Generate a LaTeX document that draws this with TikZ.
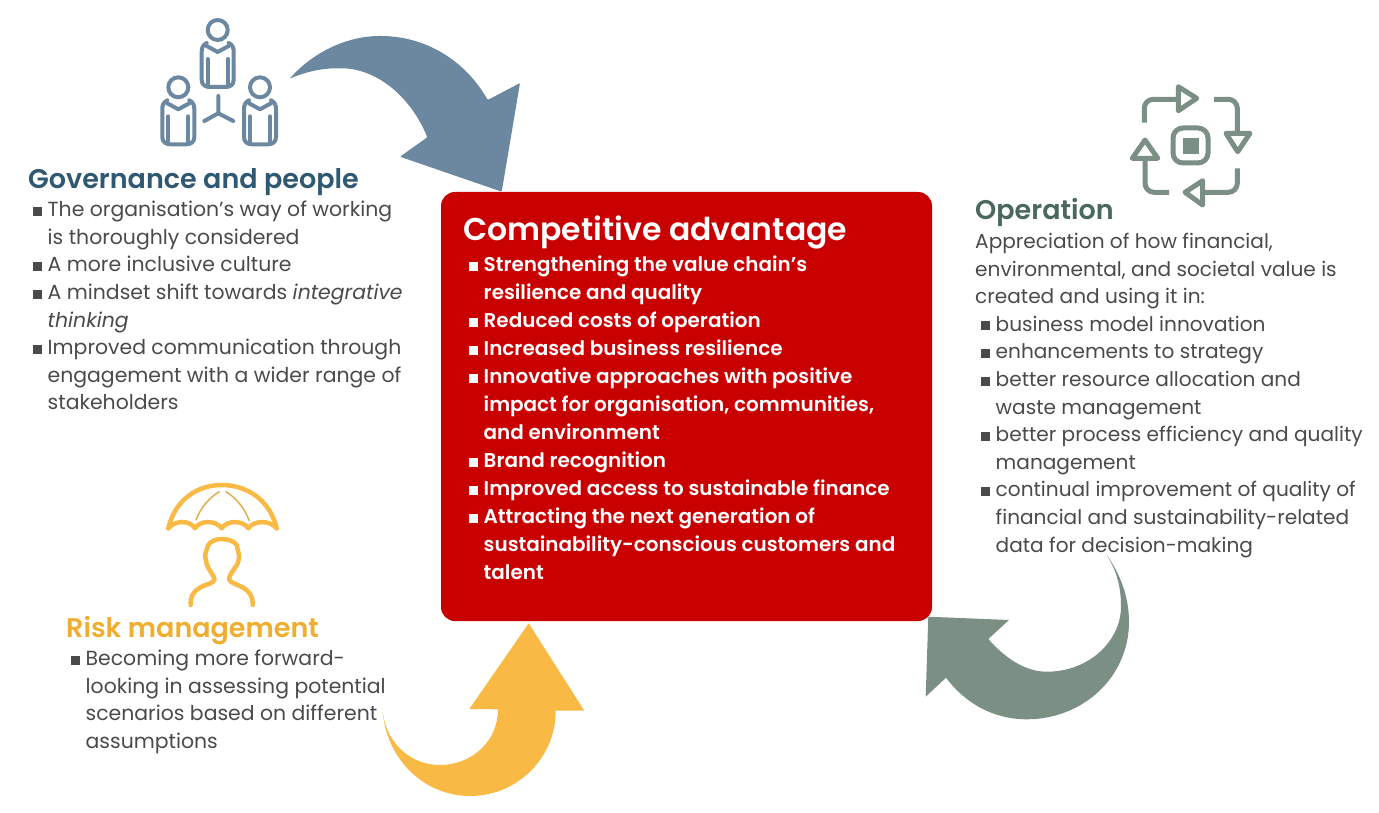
\documentclass[tikz,border=0pt]{standalone}
\usepackage{fontspec}
\setmainfont[BoldFont={Poppins SemiBold}]{Poppins}
\usepackage{xcolor}
\definecolor{govblue}{HTML}{6B88A0}
\definecolor{govhead}{HTML}{2F5873}
\definecolor{opgreen}{HTML}{7B8F85}
\definecolor{ophead}{HTML}{4A685E}
\definecolor{riskyellow}{HTML}{F8BA45}
\definecolor{riskhead}{HTML}{EFAE2F}
\definecolor{advred}{HTML}{C80000}
\definecolor{bodygray}{HTML}{4A4A4A}
\newcommand{\bul}{\makebox[14.5pt][l]{\rule[1pt]{9pt}{9pt}}}
\newcommand{\ind}{\hspace*{14.5pt}}
\newcommand{\personicon}{%
    \draw (0,0) circle (10);
    \draw (-11,16) -- (0,22) -- (11,16);
    \draw (-11,13) .. controls (-15,15) and (-16,18) .. (-16,22) -- (-16,50) .. controls (-16,55) and (-12,57) .. (-8,57) -- (8,57) .. controls (12,57) and (16,55) .. (16,50) -- (16,22) .. controls (16,18) and (15,15) .. (11,13);
    \draw (-10,29) -- (-10,55);
    \draw (10,29) -- (10,55);
}
\tikzset{
    heading/.style={anchor=west, inner sep=0pt, font=\fontsize{27}{32}\selectfont\bfseries},
    bodytext/.style={anchor=north west, inner sep=0pt, align=left, text=bodygray, font=\fontsize{20.4}{27.6}\selectfont},
    icon/.style={line width=4pt, line join=round, line cap=round}
}
\begin{document}
\begin{tikzpicture}[x=1pt,y=-1pt]
        \useasboundingbox (0,0) rectangle (1379,813);

        % Centre box
        \node[fill=advred, rounded corners=14pt, minimum width=491pt, minimum height=429pt, inner sep=0pt] (advbox) at (686.5,406.5) {};
        \node[heading, text=white, font=\fontsize{31.5}{36}\selectfont\bfseries] (advhead) at (463,232) {Competitive advantage};
        \node[bodytext, text=white, anchor=north west, font=\fontsize{19.95}{28}\selectfont\bfseries] (advtext) at (469,256) {%
            \bul Strengthening the value chain’s\\
            \ind resilience and quality\\
            \bul Reduced costs of operation\\
            \bul Increased business resilience\\
            \bul Innovative approaches with positive\\
            \ind impact for organisation, communities,\\
            \ind and environment\\
            \bul Brand recognition\\
            \bul Improved access to sustainable finance\\
            \bul Attracting the next generation of\\
            \ind sustainability-conscious customers and\\
            \ind talent};

        % Governance and people
        \node[heading, text=govhead] (govtitle) at (28,182) {Governance and people};
        \node[bodytext] (govtext) at (33,201) {%
            \bul The organisation’s way of working\\
            \ind is thoroughly considered\\
            \bul A more inclusive culture\\
            \bul A mindset shift towards \textit{integrative}\\
            \ind\textit{thinking}\\
            \bul Improved communication through\\
            \ind engagement with a wider range of\\
            \ind stakeholders};

        % Operation
        \node[heading, text=ophead] (optitle) at (975,212) {Operation};
        \node[bodytext, font=\fontsize{20.1}{27.6}\selectfont] (optext) at (975,233) {%
            Appreciation of how financial,\\
            environmental, and societal value is\\
            created and using it in:\\
            \hspace*{6pt}\bul business model innovation\\
            \hspace*{6pt}\bul enhancements to strategy\\
            \hspace*{6pt}\bul better resource allocation and\\
            \hspace*{6pt}\ind waste management\\
            \hspace*{6pt}\bul better process efficiency and quality\\
            \hspace*{6pt}\ind management\\
            \hspace*{6pt}\bul continual improvement of quality of\\
            \hspace*{6pt}\ind financial and sustainability-related\\
            \hspace*{6pt}\ind data for decision-making};

        % Risk management
        \node[heading, text=riskhead] (risktitle) at (66,631) {Risk management};
        \node[bodytext] (risktext) at (71,650) {%
            \bul Becoming more forward-\\
            \ind looking in assessing potential\\
            \ind scenarios based on different\\
            \ind assumptions};

        % Blue arrow
        \fill[govblue, rounded corners=1pt] (289.7,78.7) .. controls (315,50) and (350,36) .. (380,36)
            .. controls (425,36) and (465,60) .. (487.7,100) -- (520,83) -- (501.7,191.7) -- (400,156.7) -- (427.3,137.3)
            .. controls (410,95) and (375,68) .. (340,68.3) .. controls (322,68) and (305,72) .. (289.7,78.7) -- cycle;

        % Yellow arrow
        \fill[riskyellow] (382.3,707.3) .. controls (385,760) and (425,796) .. (470,796)
            .. controls (518,796) and (556,757) .. (555.7,710.7) -- (584.3,710.7) -- (528.7,623.3) -- (469.3,709) -- (498,709.3)
            .. controls (498,741) and (472,765) .. (440,765) .. controls (408,765) and (384,740) .. (382.3,707.3) -- cycle;

        % Green arrow
        \fill[opgreen] (1106.7,555) .. controls (1121,575) and (1129,598) .. (1129,621.7)
            .. controls (1129,677) and (1083,719.3) .. (1026.7,719.3) .. controls (993,719.3) and (965,703) .. (946,677.7)
            -- (925.7,696.7) -- (928.3,616.7) -- (1009,620) -- (988.3,639)
            .. controls (1005,658) and (1025,671.7) .. (1046.7,671.7) .. controls (1090,671.7) and (1121,640) .. (1121,606.7)
            .. controls (1121,585) and (1116,570) .. (1106.7,555) -- cycle;

        % People icon
        \begin{scope}[icon, draw=govblue]
            \begin{scope}[shift={(217.7,30)}]
                \personicon
            \end{scope}
            \begin{scope}[shift={(178.3,87.3)}]
                \personicon
            \end{scope}
            \begin{scope}[shift={(260,87.3)}]
                \personicon
            \end{scope}
            \draw (218.3,96) -- (218.3,113.3) -- (204.3,121);
            \draw (218.3,113.3) -- (233.3,121);
        \end{scope}

        % Process icon
        \begin{scope}[icon, draw=opgreen, line cap=butt]
            \draw[rounded corners=10pt, line width=5pt] (1173,128) rectangle (1208,163);
            \fill[opgreen] (1182.7,137.7) rectangle (1198.7,153.7);
            \draw[line width=5pt, rounded corners=9pt] (1144.3,122.7) -- (1144.3,99.3) -- (1180,99.3);
            \draw[line width=5pt, line join=round] (1178.3,86.7) -- (1196.7,98.3) -- (1178.3,110.7) -- cycle;
            \draw[line width=5pt, rounded corners=9pt] (1214,99.3) -- (1237.3,99.3) -- (1237.3,133);
            \draw[line width=5pt, line join=round] (1226,133.3) -- (1250,133.3) -- (1237.7,151.7) -- cycle;
            \draw[line width=5pt, rounded corners=9pt] (1237.3,168.3) -- (1237.3,192.3) -- (1202.7,192.3);
            \draw[line width=5pt, line join=round] (1202.7,180.7) -- (1185,192.3) -- (1202.7,205) -- cycle;
            \draw[line width=5pt, rounded corners=9pt] (1169,192.3) -- (1145,192.3) -- (1145,158.3);
            \draw[line width=5pt, line join=round] (1132.3,158.3) -- (1157.7,158.3) -- (1145,140) -- cycle;
        \end{scope}

        % Umbrella icon
        \begin{scope}[icon, draw=riskyellow, line width=4.5pt]
            \draw (168.3,528.3) .. controls (175,500) and (197,485) .. (221.7,485) .. controls (247,485) and (270,500) .. (276.7,528.3);
            \draw (168.3,528.3) .. controls (175,520) and (190,520) .. (195,528.3) .. controls (200,520) and (216,520) .. (221.7,528.3)
                .. controls (227,520) and (243,520) .. (248.3,528.3) .. controls (254,520) and (270,520) .. (276.7,528.3);
            \draw[line width=1.5pt, draw=riskyellow!80!gray] (196,520) .. controls (201,507) and (209,498) .. (219.3,491.7);
            \draw[line width=1.5pt, draw=riskyellow!80!gray] (226,491.7) .. controls (236,498) and (244,507) .. (249.3,520.7);
            \draw (190.7,605) .. controls (190,595) and (195,590) .. (203,586) .. controls (212,583) and (216,581) .. (214,577.3)
                .. controls (210,570) and (206,566) .. (206,560) .. controls (204,555) and (206,552) .. (208.3,545)
                .. controls (211,541) and (216,539) .. (221.7,539) .. controls (228,539) and (234,541) .. (236.7,545)
                .. controls (238,552) and (240,555) .. (238.7,560) .. controls (238,566) and (232,570) .. (229.3,577.3)
                .. controls (228,581) and (232,583) .. (240,586) .. controls (248,590) and (253,595) .. (252.7,605);
        \end{scope}

\end{tikzpicture}
\end{document}
